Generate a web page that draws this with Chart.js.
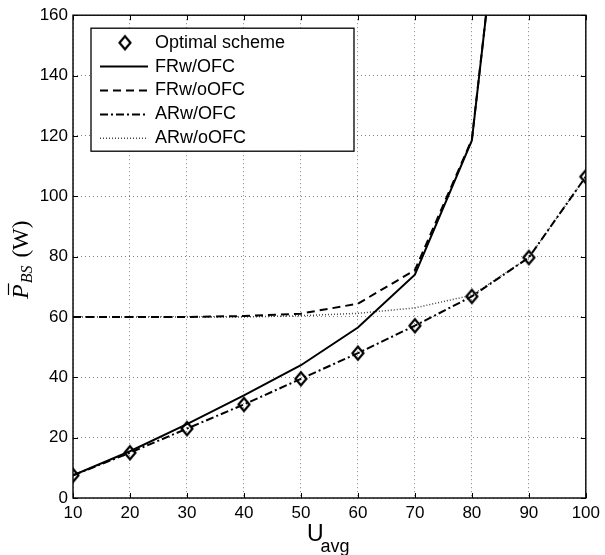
<!DOCTYPE html>
<html>
<head>
<meta charset="utf-8">
<title>Average BS power vs U_avg</title>
<script src="https://cdn.jsdelivr.net/npm/chart.js@4.4.0/dist/chart.umd.min.js"></script>
<style>
  html, body { margin: 0; padding: 0; background: #fff; }
  canvas { display: block; }
</style>
</head>
<body>
<canvas id="mycanvas" width="605" height="555"></canvas>
<script>
// average utility on the x axis
var uAvg = [10, 20, 30, 40, 50, 60, 70, 80, 90, 100];

// average BS power (W) for each scheme
var optimalScheme = [7.5, 15, 23, 31, 39.5, 48, 57.1, 66.8, 79.7, 106.5];
var frWithOfc     = [7.5, 15.5, 24.5, 34, 44, 56.5, 74, 118.5, 285, null];
var frWithoutOfc  = [60, 60, 60, 60.3, 61.1, 64.4, 75.5, 118.8, 285, null];
var arWithOfc     = [7.5, 15, 23, 31, 39.5, 48, 57.1, 66.8, 79.7, 106.5];
var arWithoutOfc  = [60, 60, 60, 60, 60.4, 61.2, 63, 67.2, 79.7, 106.5];

var xTicks = [10, 20, 30, 40, 50, 60, 70, 80, 90, 100];
var yTicks = [0, 20, 40, 60, 80, 100, 120, 140, 160];

var sans = 'Liberation Sans, Arial, sans-serif';
var serif = 'Liberation Serif, Times New Roman, serif';

function toPoints(ys) {
  return uAvg.map(function(x, i) { return {x: x, y: ys[i]}; });
}

// hollow diamond marker, a bit taller than wide
function makeDiamond() {
  var c = document.createElement('canvas');
  c.width = 16; c.height = 18;
  var g = c.getContext('2d');
  g.lineWidth = 2.2;
  g.strokeStyle = '#000';
  g.lineJoin = 'miter';
  g.beginPath();
  g.moveTo(8, 2.5);
  g.lineTo(13.5, 9);
  g.lineTo(8, 15.5);
  g.lineTo(2.5, 9);
  g.closePath();
  g.stroke();
  return c;
}
var diamond = makeDiamond();

var chartdata = {
  datasets: [
    {
      label: 'Optimal scheme',
      data: toPoints(optimalScheme),
      showLine: false,
      pointStyle: diamond,
      pointRadius: 7,
      borderColor: '#000'
    },
    {
      label: 'FRw/OFC',
      data: toPoints(frWithOfc),
      borderColor: '#000',
      borderWidth: 2,
      pointRadius: 0
    },
    {
      label: 'FRw/oOFC',
      data: toPoints(frWithoutOfc),
      borderColor: '#000',
      borderWidth: 2,
      borderDash: [8, 5],
      pointRadius: 0
    },
    {
      label: 'ARw/OFC',
      data: toPoints(arWithOfc),
      borderColor: '#000',
      borderWidth: 2,
      borderDash: [8, 3, 2, 3],
      pointRadius: 0
    },
    {
      label: 'ARw/oOFC',
      data: toPoints(arWithoutOfc),
      borderColor: '#444',
      borderWidth: 1.5,
      borderDash: [1, 2],
      pointRadius: 0
    }
  ]
};

// box, inward ticks, legend and axis titles
var decorations = {
  id: 'decorations',
  afterDraw: function(chart) {
    var ctx = chart.ctx;
    var a = chart.chartArea;
    var xs = chart.scales.x, ys = chart.scales.y;

    ctx.save();
    ctx.strokeStyle = '#000';
    ctx.lineWidth = 1.4;
    ctx.setLineDash([]);
    ctx.strokeRect(a.left, a.top, a.right - a.left, a.bottom - a.top);

    ctx.lineWidth = 1;
    ctx.beginPath();
    xTicks.forEach(function(v) {
      var px = Math.round(xs.getPixelForValue(v)) + 0.5;
      ctx.moveTo(px, a.bottom); ctx.lineTo(px, a.bottom - 5);
      ctx.moveTo(px, a.top); ctx.lineTo(px, a.top + 5);
    });
    yTicks.forEach(function(v) {
      var py = Math.round(ys.getPixelForValue(v)) + 0.5;
      ctx.moveTo(a.left, py); ctx.lineTo(a.left + 5, py);
      ctx.moveTo(a.right, py); ctx.lineTo(a.right - 5, py);
    });
    ctx.stroke();

    // legend
    var lx = a.left + 18, ly = a.top + 13, lw = 263, lh = 123;
    ctx.fillStyle = '#fff';
    ctx.fillRect(lx, ly, lw, lh);
    ctx.lineWidth = 1.3;
    ctx.strokeRect(lx, ly, lw, lh);
    ctx.font = '18px ' + sans;
    ctx.textBaseline = 'middle';
    ctx.textAlign = 'left';
    chart.data.datasets.forEach(function(ds, i) {
      var y = ly + 14.5 + i * 23.9;
      if (ds.showLine === false) {
        ctx.drawImage(diamond, lx + 34 - diamond.width / 2, y - diamond.height / 2);
      } else {
        ctx.save();
        ctx.strokeStyle = ds.borderColor;
        ctx.lineWidth = ds.borderWidth;
        ctx.setLineDash(ds.borderDash || []);
        ctx.beginPath();
        ctx.moveTo(lx + 9, y);
        ctx.lineTo(lx + 57, y);
        ctx.stroke();
        ctx.restore();
      }
      ctx.fillStyle = '#000';
      ctx.fillText(ds.label, lx + 64, y);
    });

    // x axis title: U_avg
    ctx.textBaseline = 'alphabetic';
    ctx.font = '23px ' + sans;
    var ux = 307;
    ctx.fillText('U', ux, 541);
    ctx.font = '18px ' + sans;
    ctx.fillText('avg', ux + ctx.measureText('U').width + 0.5 + 0, 552);

    // y axis title: P-bar_BS (W), rotated
    ctx.translate(28, 299);
    ctx.rotate(-Math.PI / 2);
    ctx.font = 'italic 24px ' + serif;
    ctx.fillText('P', 0, 0);
    var pw = ctx.measureText('P').width;
    ctx.lineWidth = 1.2;
    ctx.beginPath();
    ctx.moveTo(4, -19.5);
    ctx.lineTo(pw + 1, -19.5);
    ctx.stroke();
    ctx.font = 'italic 16px ' + serif;
    ctx.fillText('BS', pw + 1, 4);
    var bw = ctx.measureText('BS').width;
    ctx.font = '23px ' + serif;
    ctx.fillText('(W)', pw + bw + 9, 0);
    ctx.restore();
  }
};

var ctx = document.getElementById('mycanvas').getContext('2d');

var powerChart = new Chart(ctx, {
  type: 'line',
  data: chartdata,
  plugins: [decorations],
  options: {
    responsive: false,
    animation: false,
    layout: { padding: { top: 12, right: 16, left: 0, bottom: 0 } },
    elements: { line: { tension: 0, fill: false } },
    plugins: {
      legend: { display: false },
      tooltip: { enabled: false }
    },
    scales: {
      x: {
        type: 'linear',
        min: 10,
        max: 100,
        afterBuildTicks: function(scale) {
          scale.ticks = xTicks.map(function(v) { return {value: v}; });
        },
        afterFit: function(scale) { scale.height = 57; },
        ticks: { color: '#000', font: { family: sans, size: 17 }, padding: 5, maxRotation: 0 },
        grid: { color: 'rgba(0,0,0,0.5)', lineWidth: 1, drawTicks: false },
        border: { display: false, dash: [1, 3] }
      },
      y: {
        type: 'linear',
        min: 0,
        max: 160,
        afterBuildTicks: function(scale) {
          scale.ticks = yTicks.map(function(v) { return {value: v}; });
        },
        afterFit: function(scale) { scale.width = 73; },
        ticks: { color: '#000', font: { family: sans, size: 17 }, padding: 5 },
        grid: { color: 'rgba(0,0,0,0.5)', lineWidth: 1, drawTicks: false },
        border: { display: false, dash: [1, 3] }
      }
    }
  }
});
</script>
</body>
</html>
